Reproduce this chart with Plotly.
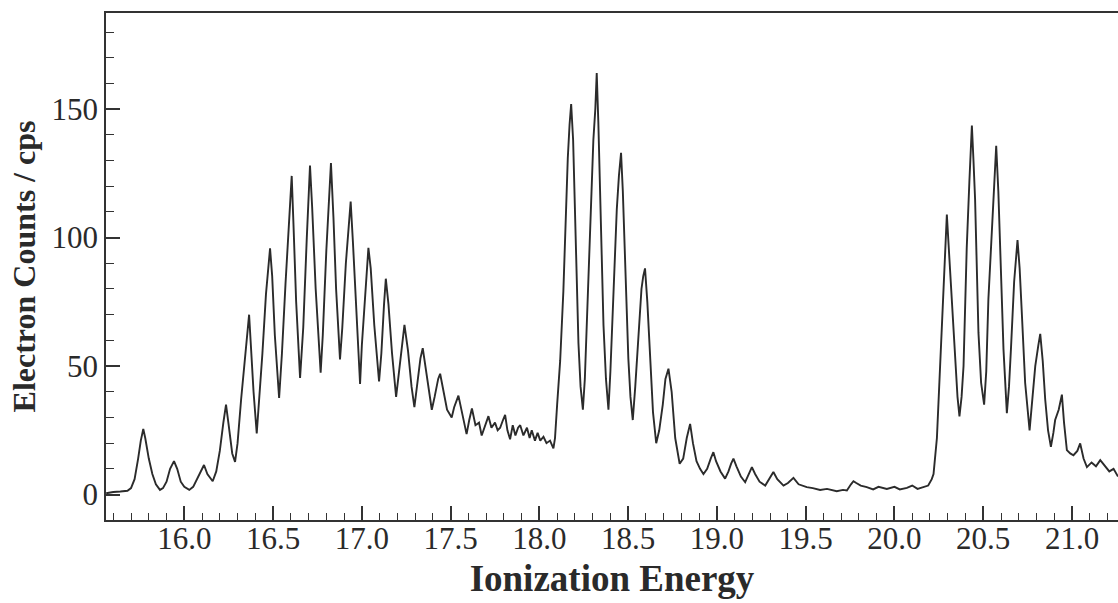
import plotly.graph_objects as go

energy = [
    15.56, 15.60, 15.64, 15.68, 15.70, 15.72, 15.74, 15.755, 15.769, 15.78,
    15.80, 15.82, 15.84, 15.863, 15.88, 15.90, 15.92, 15.942, 15.96, 15.98,
    16.00, 16.028, 16.05, 16.07, 16.09, 16.111, 16.13, 16.16, 16.18, 16.20,
    16.22, 16.235, 16.25, 16.27, 16.286, 16.30, 16.32, 16.34, 16.355, 16.365,
    16.375, 16.39, 16.408, 16.42, 16.44, 16.46, 16.475, 16.483, 16.495, 16.51,
    16.534, 16.55, 16.57, 16.59, 16.605, 16.615, 16.63, 16.652, 16.67, 16.69,
    16.70, 16.708, 16.72, 16.74, 16.768, 16.78, 16.80, 16.815, 16.826, 16.84,
    16.855, 16.877, 16.89, 16.91, 16.925, 16.937, 16.95, 16.965, 16.984, 16.99,
    17.00, 17.02, 17.037, 17.05, 17.07, 17.097, 17.11, 17.125, 17.135, 17.15,
    17.17, 17.193, 17.21, 17.23, 17.24, 17.26, 17.28, 17.296, 17.31, 17.33,
    17.343, 17.36, 17.38, 17.394, 17.41, 17.43, 17.441, 17.46, 17.48, 17.506,
    17.52, 17.544, 17.56, 17.59, 17.605, 17.62, 17.64, 17.66, 17.675, 17.695,
    17.713, 17.73, 17.75, 17.765, 17.779, 17.795, 17.807, 17.82, 17.835, 17.85,
    17.865, 17.88, 17.892, 17.91, 17.93, 17.945, 17.957, 17.975, 17.99, 18.005,
    18.023, 18.04, 18.06, 18.079, 18.088, 18.10, 18.117, 18.135, 18.145, 18.16,
    18.17, 18.179, 18.19, 18.201, 18.21, 18.22, 18.232, 18.245, 18.256, 18.267,
    18.286, 18.304, 18.315, 18.323, 18.332, 18.342, 18.361, 18.375, 18.389, 18.40,
    18.417, 18.436, 18.448, 18.46, 18.47, 18.483, 18.501, 18.513, 18.526, 18.54,
    18.558, 18.575, 18.585, 18.595, 18.608, 18.623, 18.64, 18.658, 18.675, 18.695,
    18.71, 18.727, 18.745, 18.765, 18.79, 18.81, 18.83, 18.849, 18.865, 18.885,
    18.905, 18.924, 18.945, 18.965, 18.98, 18.995, 19.02, 19.046, 19.065, 19.08,
    19.093, 19.11, 19.135, 19.159, 19.18, 19.197, 19.215, 19.24, 19.272, 19.295,
    19.318, 19.34, 19.375, 19.40, 19.431, 19.46, 19.506, 19.54, 19.581, 19.62,
    19.675, 19.71, 19.732, 19.755, 19.769, 19.785, 19.81, 19.844, 19.88, 19.91,
    19.957, 20.00, 20.03, 20.07, 20.10, 20.13, 20.164, 20.19, 20.21, 20.22,
    20.239, 20.253, 20.265, 20.276, 20.286, 20.295, 20.305, 20.323, 20.342, 20.355,
    20.366, 20.378, 20.389, 20.407, 20.422, 20.436, 20.445, 20.454, 20.473, 20.488,
    20.505, 20.517, 20.529, 20.549, 20.562, 20.573, 20.585, 20.595, 20.614, 20.633,
    20.645, 20.656, 20.674, 20.693, 20.705, 20.718, 20.736, 20.761, 20.775, 20.793,
    20.81, 20.821, 20.835, 20.849, 20.865, 20.881, 20.895, 20.905, 20.925, 20.943,
    20.955, 20.971, 20.99, 21.008, 21.03, 21.046, 21.065, 21.084, 21.11, 21.135,
    21.159, 21.185, 21.21, 21.234, 21.259,
]

counts = [
    0.5, 1.0, 1.2, 1.5, 2.5, 6, 14, 21, 25.5, 22,
    14, 8, 4, 1.8, 2.5, 5, 10, 13, 10, 5,
    3, 1.8, 3, 6, 9, 11.5, 8, 5.2, 9, 17,
    28, 35, 27, 16, 12.7, 20, 37, 53, 62, 70,
    58, 40, 23.8, 35, 55, 78, 91, 95.8, 85, 62,
    37.6, 55, 82, 105, 124, 105, 75, 45.4, 65, 100,
    118, 128, 112, 80, 47.4, 62, 95, 112, 129, 108,
    80, 52.6, 65, 90, 104, 114, 98, 75, 50, 43,
    58, 80, 96, 88, 66, 44, 55, 74, 84, 74,
    55, 38, 48, 62, 66, 56, 42, 34, 42, 53,
    57, 49, 38, 33, 38, 45, 47, 40, 33, 30,
    34, 38.5, 33, 23.5, 29, 33.5, 27, 28, 23, 27,
    30.5, 26, 28, 25, 26, 29, 31, 25, 21.5, 27,
    23, 26, 27, 23, 26, 22, 25, 21, 24, 21,
    22.5, 20, 21, 18, 22, 35, 52, 79, 102, 131,
    144, 152, 138, 105, 82, 59, 42, 33, 45, 66,
    105, 138, 150, 164, 145, 118, 66, 45, 33, 48,
    79, 111, 124, 133, 118, 92, 53, 38, 29, 42,
    63, 80, 85, 88, 75, 55, 32, 20, 25, 35,
    45, 49, 40, 22, 12, 14, 22, 27.5, 20, 13,
    10, 8, 10, 14, 16.5, 13, 9, 6.2, 9, 12,
    14, 11, 7, 4.8, 8, 10.7, 8, 5, 3.5, 6,
    8.8, 6, 3.5, 4.5, 6.5, 4, 2.9, 2.5, 1.8, 2.2,
    1.3, 1.8, 1.6, 4, 5.2, 4.5, 3.5, 2.9, 2.0, 3.0,
    2.2, 3.0, 2.0, 2.6, 3.5, 2.2, 2.9, 3.5, 6, 8,
    22, 45, 62, 76, 96, 109, 97, 76, 50, 38,
    30.4, 38, 50, 96, 122, 143.6, 130, 115, 63, 43.5,
    35, 48, 76, 102, 122, 135.7, 118, 96, 56.6, 31.7,
    42, 56.6, 82.8, 99, 88, 69.6, 43.5, 25, 35, 50,
    58, 62.5, 52, 37, 25, 18.6, 24, 29, 33, 38.9,
    28, 17.3, 16, 15.3, 17, 19.9, 14, 10.7, 12.5, 11,
    13.4, 11, 9, 10, 7,
]

x_title = "Ionization Energy"
y_title = "Electron Counts / cps"
x_range = [15.559, 21.259]
y_range = [-9.9, 187.4]

fig = go.Figure()
fig.add_trace(go.Scatter(
    x=energy, y=counts, mode="lines",
    line=dict(color="#2b2b2b", width=1.9),
    showlegend=False, hoverinfo="skip",
))

serif = "Liberation Serif, Times New Roman, serif"
axis_col = "#333333"
text_col = "#2a2a2a"

fig.update_layout(
    width=1118, height=603,
    margin=dict(l=106, r=0, t=13, b=83),
    paper_bgcolor="white", plot_bgcolor="white",
    font=dict(family=serif, color=text_col),
    showlegend=False,
)
fig.update_xaxes(
    range=x_range, showgrid=False, zeroline=False,
    showline=True, linecolor=axis_col, linewidth=1.7, mirror=True,
    ticks="inside", ticklen=14, tickwidth=1.6, tickcolor=axis_col,
    tick0=16.0, dtick=0.5, tickformat=".1f",
    tickfont=dict(family=serif, size=31, color=text_col),
    ticklabelstandoff=-10,
    minor=dict(dtick=0.1, tick0=16.0, ticks="inside", ticklen=7,
               tickwidth=1.4, tickcolor=axis_col, showgrid=False),
    title=dict(text=x_title, font=dict(family=serif, size=37, color=text_col, weight="bold"),
               standoff=10),
)
fig.update_yaxes(
    range=y_range, showgrid=False, zeroline=False,
    showline=True, linecolor=axis_col, linewidth=1.7, mirror=False,
    ticks="inside", ticklen=14, tickwidth=1.6, tickcolor=axis_col,
    tick0=0, dtick=50,
    tickfont=dict(family=serif, size=31, color=text_col),
    minor=dict(dtick=10, tick0=0, ticks="inside", ticklen=8,
               tickwidth=1.4, tickcolor=axis_col, showgrid=False),
    title=dict(text=y_title, font=dict(family=serif, size=32, color=text_col, weight="bold"),
               standoff=6),
)

fig.write_html("out.html")
